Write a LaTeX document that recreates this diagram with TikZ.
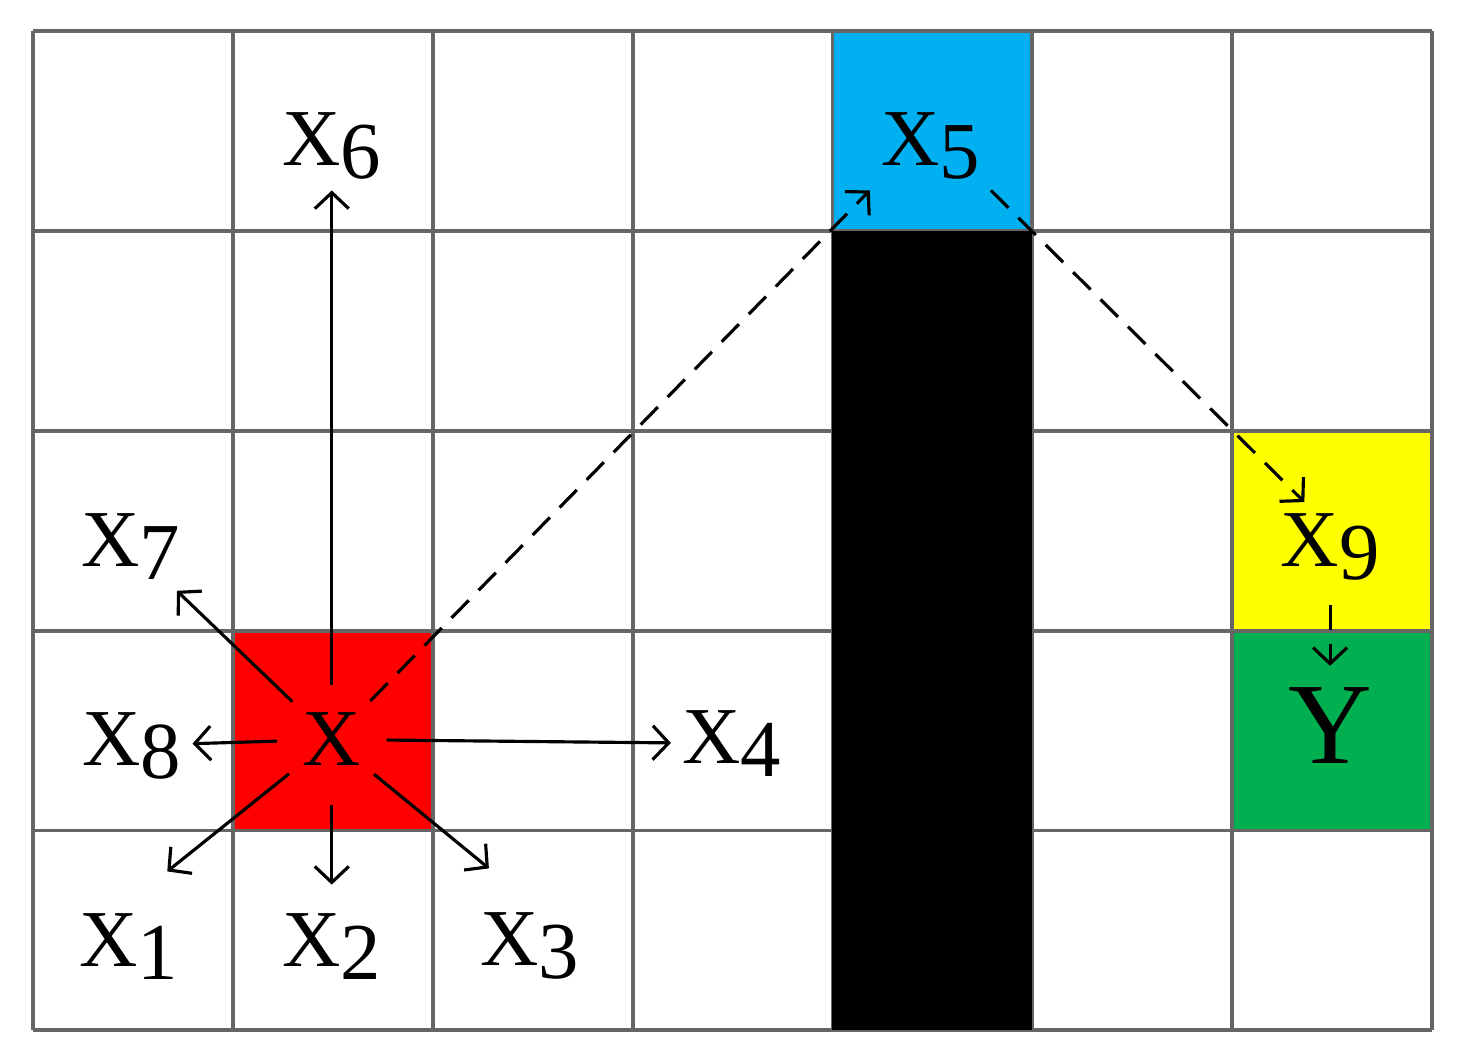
\documentclass[tikz,border=0pt]{standalone}
\usepackage{fontspec}
\setmainfont{Liberation Serif}
\usetikzlibrary{arrows.meta}
\definecolor{myred}{RGB}{255,0,0}
\definecolor{myblue}{RGB}{0,176,240}
\definecolor{myyellow}{RGB}{255,255,0}
\definecolor{mygreen}{RGB}{0,176,80}
\newcommand{\lbl}[1]{X\raisebox{-0.13cm}{#1}}

\begin{document}
\begin{tikzpicture}[gl/.style = {line width=1.1pt, color=black!60},
		th/.style = {line width=0.9pt, -{Straight Barb[length=1.6mm,width=3.4mm]}},
		dsh/.style = {th, dash pattern=on 7pt off 4pt},
		lab/.style = {font=\fontsize{23}{26}\selectfont, inner sep=3pt}]
		\useasboundingbox (-0.33,-0.33) rectangle (14.3,10.31);
		\draw[gl] (0,0) grid[step=2] (14,10);
		\filldraw[gl, fill=myred] (2,2) rectangle (4,4);
		\filldraw[gl, fill=myblue] (8,8) rectangle (10,10);
		\filldraw[gl, fill=myyellow] (12,4) rectangle (14,6);
		\filldraw[gl, fill=mygreen] (12,2) rectangle (14,4);
		\fill[black] (8,0) rectangle (10,8);
		\node[lab, circle, minimum size=1cm] (x) at (2.99,2.91) {X};
		\node[lab] (x1) at (0.96,0.84) {\lbl{1}};
		\node[lab] (x2) at (2.99,0.84) {\lbl{2}};
		\node[lab] (x3) at (4.97,0.84) {\lbl{3}};
		\node[lab] (x4) at (6.99,2.87) {\lbl{4}};
		\node[lab] (x5) at (8.98,8.85) {\lbl{5}};
		\node[lab] (x6) at (2.99,8.85) {\lbl{6}};
		\node[lab] (x7) at (0.98,4.84) {\lbl{7}};
		\node[lab] (x8) at (0.99,2.85) {\lbl{8}};
		\node[lab] (x9) at (12.98,4.84) {\lbl{9}};
		\node[lab, font=\fontsize{33}{36}\selectfont] (y) at (12.98,3.05) {Y};
		\draw[th] (x) -- (x6);
		\draw[th] (x) -- (x7);
		\draw[th] (x) -- (x8);
		\draw[th, shorten >=14pt] (x) -- (x1.north);
		\draw[th, shorten <=3pt, shorten >=5pt] (x) -- (x2);
		\draw[th, shorten >=15pt] (x) -- (x3.north);
		\draw[th] (x) -- (x4);
		\draw[dsh] (x.45) -- (x5.south west);
		\draw[dsh] (x5.south east) -- (x9.120);
		\draw[dsh, shorten <=4pt, shorten >=3pt] (x9) -- (y);
	\end{tikzpicture}
\end{document}
